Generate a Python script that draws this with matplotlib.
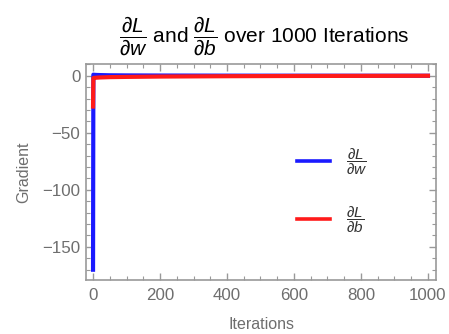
import matplotlib
matplotlib.use("Agg")
import matplotlib.pyplot as plt
from matplotlib.ticker import MultipleLocator, FuncFormatter

plt.rcParams['font.family'] = ['Liberation Sans', 'DejaVu Sans']
plt.rcParams['mathtext.fontset'] = 'custom'
plt.rcParams['mathtext.rm'] = 'Liberation Sans'
plt.rcParams['mathtext.it'] = 'Liberation Sans:italic'
plt.rcParams['mathtext.fallback'] = 'cm'

# gradient values
iterations = [0, 1, 2, 5, 10, 20, 50, 100, 200, 400, 600, 800, 1000]
grad_w = [-170.0, 1.0, 0.9, 0.8, 0.7, 0.6, 0.4, 0.3, 0.2, 0.1, 0.05, 0.02, 0.0]
grad_b = [-27.0, -2.0, -1.9, -1.8, -1.7, -1.5, -1.2, -1.0, -0.7, -0.4, -0.2, -0.1, 0.0]

gray = '#6e6e6e'
frame = '#999999'

fig = plt.figure(figsize=(4.49, 3.34), dpi=100)
ax = fig.add_axes([86 / 449, 1 - 280 / 334, 350 / 449, 216 / 334])

ax.plot(iterations, grad_w, color='#1a1aff', lw=3, label=r'$\dfrac{\partial L}{\partial w}$')
ax.plot(iterations, grad_b, color='#ff1a1a', lw=3, label=r'$\dfrac{\partial L}{\partial b}$')

ax.set_xlim(-21, 1024)
ax.set_ylim(-179, 10.3)
ax.xaxis.set_major_locator(MultipleLocator(200))
ax.xaxis.set_minor_locator(MultipleLocator(50))
ax.yaxis.set_major_locator(MultipleLocator(50))
ax.yaxis.set_minor_locator(MultipleLocator(10))
ax.tick_params(which='both', direction='in', top=True, right=True, color=frame,
               labelcolor=gray, labelsize=12.2)
ax.tick_params(which='major', length=5, width=1)
ax.tick_params(which='minor', length=3, width=0.8)
ax.tick_params(axis='x', which='major', pad=6)
ax.tick_params(axis='y', which='major', pad=4)
ax.yaxis.set_major_formatter(FuncFormatter(lambda v, p: f"{int(v)}".replace('-', '\u2212')))
for s in ax.spines.values():
    s.set_color(frame)
    s.set_linewidth(1.2)

ax.set_xlabel('Iterations', color=gray, fontsize=11.5, labelpad=10)
ax.set_ylabel('Gradient', color=gray, fontsize=11.5, labelpad=8)

ax.set_title(r'$\dfrac{\partial L}{\partial w}$ and $\dfrac{\partial L}{\partial b}$ over 1000 Iterations',
             fontsize=15, pad=15, x=0.51)

leg = ax.legend(loc='center left', bbox_to_anchor=(0.563, 0.415), frameon=False,
                fontsize=11, handlelength=2.15, labelspacing=1.75, handletextpad=1.05)
for line in leg.get_lines():
    line.set_linewidth(2.6)
for t in leg.get_texts():
    t.set_color('#333333')

fig.savefig('out.png', dpi=100)
